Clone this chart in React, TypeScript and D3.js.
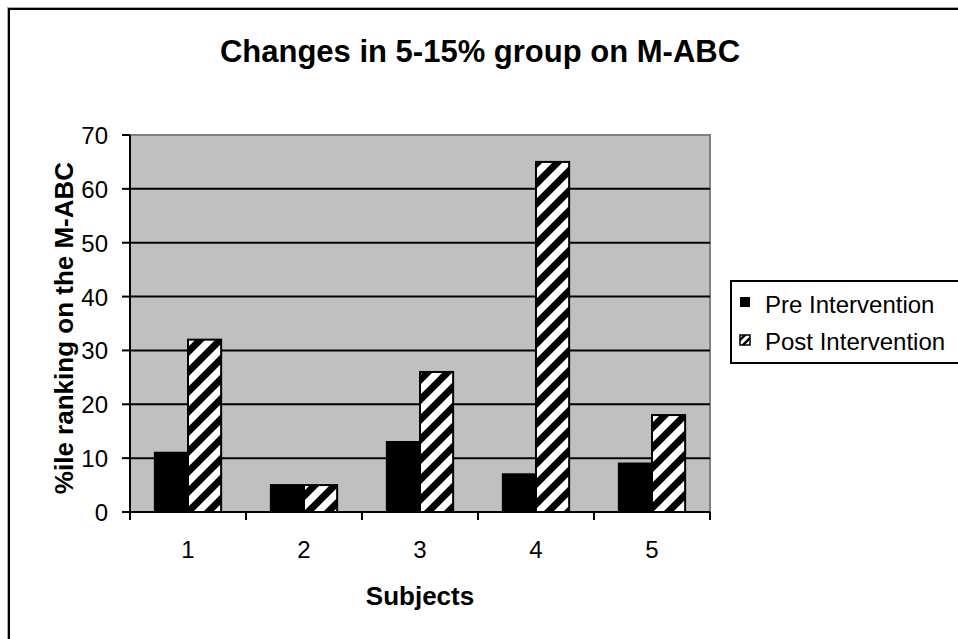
import React from "react";
import * as d3 from "d3";

const categories = ["1", "2", "3", "4", "5"];
const preValues = [11, 5, 13, 7, 9];
const postValues = [32, 5, 26, 65, 18];
const seriesNames = ["Pre Intervention", "Post Intervention"];
const yTicks = [0, 10, 20, 30, 40, 50, 60, 70];

const W = 958;
const H = 639;
const FONT = "Arial, 'Liberation Sans', sans-serif";

export default function App() {
  const plot = { left: 130, right: 710, top: 135, bottom: 512 };
  const x = d3
    .scaleBand<string>()
    .domain(categories)
    .range([plot.left, plot.right])
    .paddingInner(3 / 7)
    .paddingOuter(3 / 14);
  const xs = d3.scaleBand<string>().domain(seriesNames).range([0, x.bandwidth()]).padding(0);
  const y = d3.scaleLinear().domain([0, 70]).range([plot.bottom, plot.top]);
  const step = x.step();
  const boundaries = d3.range(categories.length + 1).map((i) => plot.left + i * step);

  return (
    <svg
      width={W}
      height={H}
      style={{ position: "absolute", left: 0, top: 0, display: "block", background: "#fff" }}
    >
      <defs>
        <pattern id="hatch" patternUnits="userSpaceOnUse" width={20} height={20}>
          <rect width={20} height={20} fill="#fff" />
          <path d="M-5,5 L5,-5 M0,20 L20,0 M15,25 L25,15" stroke="#000" strokeWidth={7} />
        </pattern>
        <pattern id="hatchSmall" patternUnits="userSpaceOnUse" width={8} height={8}>
          <rect width={8} height={8} fill="#fff" />
          <path d="M-2,2 L2,-2 M0,8 L8,0 M6,10 L10,6" stroke="#000" strokeWidth={2.5} />
        </pattern>
      </defs>
      {/* outer chart border */}
      <rect x={7.5} y={7.5} width={1000} height={700} fill="none" stroke="#aaa" strokeWidth={1} />
      <rect x={9} y={9} width={1000} height={700} fill="none" stroke="#000" strokeWidth={2} />

      {/* title */}
      <text x={480} y={62} textAnchor="middle" fontFamily={FONT} fontWeight="bold" fontSize={31}>
        Changes in 5-15% group on M-ABC
      </text>

      {/* plot area */}
      <rect
        x={plot.left}
        y={plot.top}
        width={plot.right - plot.left}
        height={plot.bottom - plot.top}
        fill="#C0C0C0"
        stroke="#808080"
        strokeWidth={2}
      />
      {yTicks
        .filter((t) => t > 0 && t < 70)
        .map((t) => (
          <line key={t} x1={plot.left} x2={plot.right} y1={y(t)} y2={y(t)} stroke="#000" strokeWidth={2} />
        ))}

      {/* bars */}
      {categories.map((c, i) => (
        <g key={c}>
          <rect
            x={(x(c) as number) + (xs(seriesNames[0]) as number)}
            y={y(preValues[i])}
            width={xs.bandwidth()}
            height={y(0) - y(preValues[i])}
            fill="#000"
            stroke="#000"
            strokeWidth={2}
          />
          <rect
            x={(x(c) as number) + (xs(seriesNames[1]) as number)}
            y={y(postValues[i])}
            width={xs.bandwidth()}
            height={y(0) - y(postValues[i])}
            fill="url(#hatch)"
            stroke="#000"
            strokeWidth={2}
          />
        </g>
      ))}

      {/* axes */}
      <line x1={plot.left} x2={plot.left} y1={plot.top} y2={plot.bottom} stroke="#000" strokeWidth={2} />
      <line x1={plot.left} x2={plot.right} y1={plot.bottom} y2={plot.bottom} stroke="#000" strokeWidth={2} />
      {yTicks.map((t) => (
        <g key={t}>
          <line x1={plot.left - 8} x2={plot.left} y1={y(t)} y2={y(t)} stroke="#000" strokeWidth={2} />
          <text x={108} y={y(t) + 9} textAnchor="end" fontFamily={FONT} fontSize={24}>
            {t}
          </text>
        </g>
      ))}
      {boundaries.map((b, i) => (
        <line key={i} x1={b} x2={b} y1={plot.bottom} y2={plot.bottom + 8} stroke="#000" strokeWidth={2} />
      ))}
      {categories.map((c) => (
        <text
          key={c}
          x={(x(c) as number) + x.bandwidth() / 2}
          y={558}
          textAnchor="middle"
          fontFamily={FONT}
          fontSize={24}
        >
          {c}
        </text>
      ))}

      {/* axis titles */}
      <text x={420} y={605} textAnchor="middle" fontFamily={FONT} fontWeight="bold" fontSize={26}>
        Subjects
      </text>
      <text
        transform={`translate(73, 328) rotate(-90)`}
        textAnchor="middle"
        fontFamily={FONT}
        fontWeight="bold"
        fontSize={26}
      >
        %ile ranking on the M-ABC
      </text>

      {/* legend */}
      <rect x={731} y={281} width={300} height={82} fill="#fff" stroke="#000" strokeWidth={2} />
      <rect x={740} y={297} width={10} height={10} fill="#000" />
      <text x={765} y={313} fontFamily={FONT} fontSize={24}>
        {seriesNames[0]}
      </text>
      <rect x={740} y={335} width={10} height={10} fill="url(#hatchSmall)" stroke="#000" strokeWidth={1.5} />
      <text x={765} y={350} fontFamily={FONT} fontSize={24}>
        {seriesNames[1]}
      </text>
    </svg>
  );
}
